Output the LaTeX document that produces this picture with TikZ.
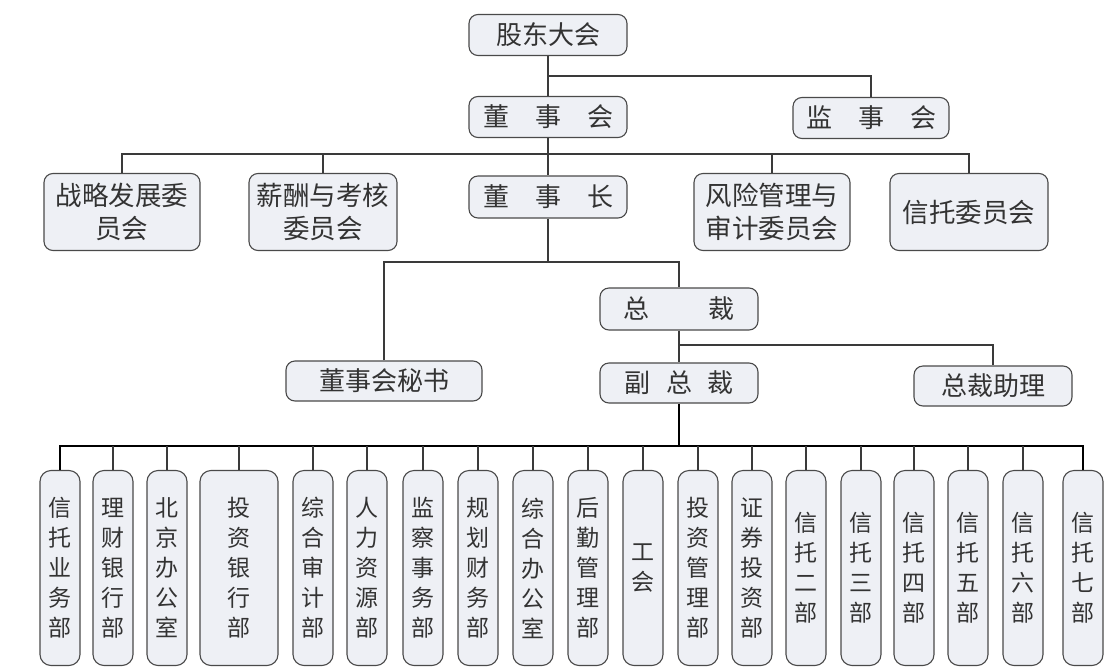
\documentclass[tikz,border=0pt]{standalone}
\usepackage{fontspec}
\newfontfamily\cjk{Noto Sans CJK SC}
\definecolor{boxfill}{HTML}{EEF0F5}
\definecolor{boxline}{HTML}{4A4A4A}
\definecolor{txt}{HTML}{333333}
\definecolor{linec}{HTML}{3A3A3A}
\begin{document}
\begin{tikzpicture}[x=1pt,y=-1pt,
  box/.style={draw=boxline, fill=boxfill, rounded corners=9pt, line width=1.1pt,
    text=txt, font=\cjk\fontsize{26}{33}\selectfont, inner sep=0pt, align=center},
  topbox/.style={box, minimum width=158pt, minimum height=41pt},
  combox/.style={box, minimum width=156pt, minimum height=77pt,
    font=\cjk\fontsize{26.5}{33}\selectfont},
  dept/.style={box, minimum width=40pt, minimum height=195pt, rounded corners=11pt,
    font=\cjk\fontsize{23}{30}\selectfont},
  link/.style={draw=linec, line width=1.1pt},
  bus/.style={draw=black, line width=2pt}]
\useasboundingbox (0,0) rectangle (1109,670);
\fill[white] (0,0) rectangle (1109,670);

% top levels
\node[topbox] (gd) at (548,35) {股东大会};
\node[topbox] (dsh) at (548,117) {董\quad 事\quad 会};
\node[topbox, minimum width=156pt] (jsh) at (871,118) {监\quad 事\quad 会};

% committees
\node[combox] (zl) at (122,212) {战略发展委\\员会};
\node[combox, minimum width=148pt] (xc) at (323,212) {薪酬与考核\\委员会};
\node[topbox, minimum height=42pt] (dsz) at (548,197) {董\quad 事\quad 长};
\node[combox] (fx) at (772,212) {风险管理与\\审计委员会};
\node[combox, minimum width=158pt] (xt) at (969,212) {信托委员会};

% management
\node[topbox, minimum width=196pt, minimum height=40pt] (ms) at (384,381) {董事会秘书};
\node[topbox, minimum height=42pt] (zc) at (679,309) {总\hspace{2.3em}裁};
\node[topbox, minimum height=40pt] (fz) at (679,383) {副\hspace{0.6em}总\hspace{0.6em}裁};
\node[topbox, minimum height=40pt] (zl2) at (993,386) {总裁助理};

% departments
\foreach \n/\x/\t in {
  1/60/{信\\托\\业\\务\\部},
  2/113/{理\\财\\银\\行\\部},
  3/167/{北\\京\\办\\公\\室},
  5/313/{综\\合\\审\\计\\部},
  6/367/{人\\力\\资\\源\\部},
  7/423/{监\\察\\事\\务\\部},
  8/478/{规\\划\\财\\务\\部},
  9/533/{综\\合\\办\\公\\室},
  10/588/{后\\勤\\管\\理\\部},
  11/643/{工\\会},
  12/698/{投\\资\\管\\理\\部},
  13/752/{证\\券\\投\\资\\部},
  14/806/{信\\托\\二\\部},
  15/861/{信\\托\\三\\部},
  16/914/{信\\托\\四\\部},
  17/968/{信\\托\\五\\部},
  18/1023/{信\\托\\六\\部},
  19/1083/{信\\托\\七\\部}}
  \node[dept] (d\n) at (\x,568) {\t};
\node[dept, minimum width=78pt] (d4) at (239,568) {投\\资\\银\\行\\部};

% connectors
\coordinate (b1) at (548,76);
\coordinate (b2) at (548,154);
\coordinate (b3) at (548,262);
\coordinate (b4) at (679,345);
\coordinate (b5) at (679,446);

\draw[link] (gd) -- (dsh);
\draw[link] (b1) -| (jsh.north);
\draw[link] (dsh) -- (dsz);
\draw[link] (zl.north) |- (b2) -| (xt.north);
\draw[link] (xc.north) -- (xc.north |- b2);
\draw[link] (fx.north) -- (fx.north |- b2);
\draw[link] (dsz.south) -- (b3);
\draw[link] (ms.north) |- (b3) -| (zc.north);
\draw[link] (zc) -- (fz);
\draw[link] (b4) -| (zl2.north);
\draw[bus] (fz.south) -- (b5);
\draw[bus] (d1.north) |- (b5) -| (d19.north);
\foreach \i in {2,...,18}
  \draw[link, line width=1.6pt] (d\i.north) -- (d\i.north |- b5);
\end{tikzpicture}
\end{document}
